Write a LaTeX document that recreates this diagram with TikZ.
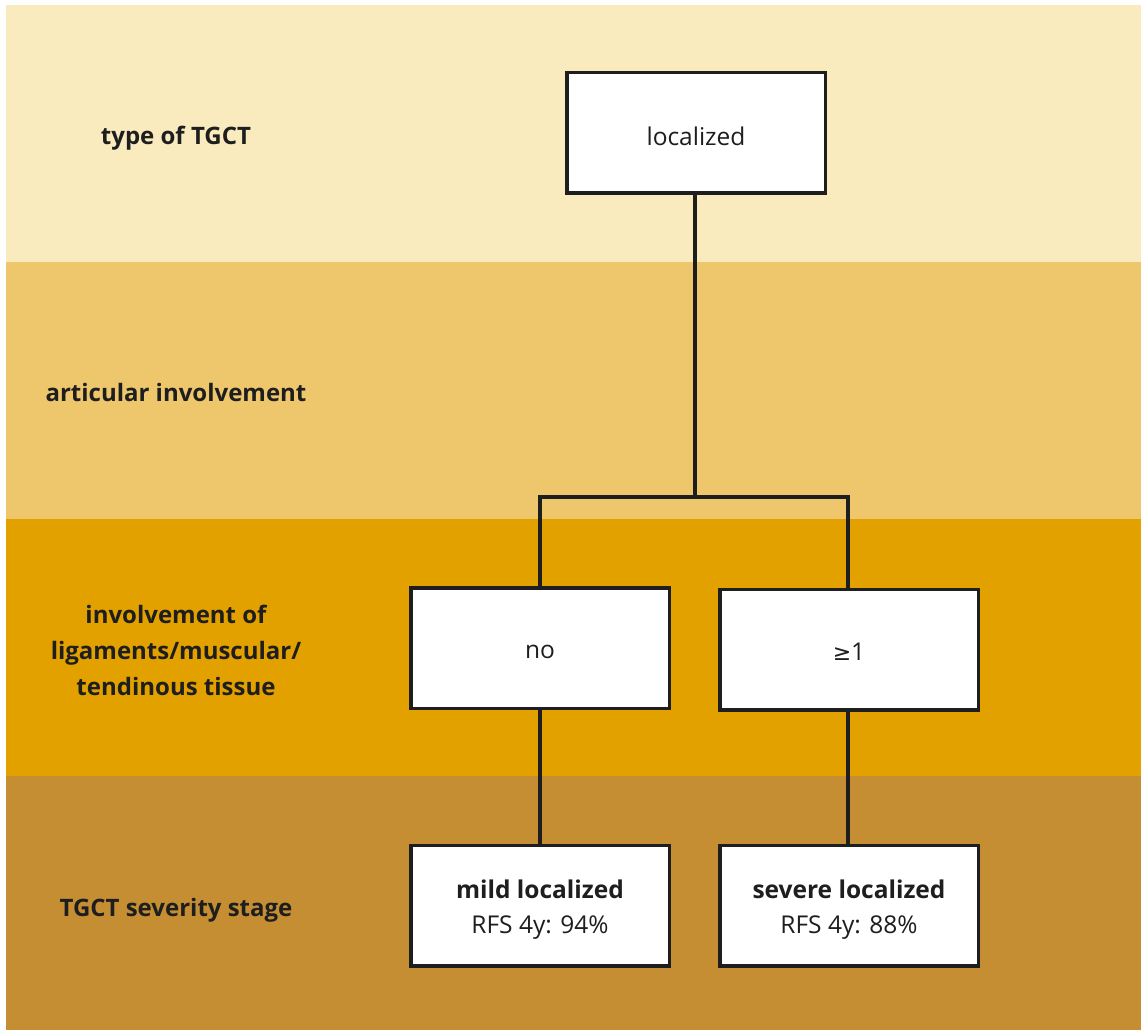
\documentclass[tikz,border=0pt]{standalone}
\usepackage{fontspec}
\setmainfont{Open Sans}
\newfontfamily\symfont{DejaVu Sans}
\definecolor{bandA}{HTML}{FAEBBE}
\definecolor{bandB}{HTML}{EEC76D}
\definecolor{bandC}{HTML}{E3A100}
\definecolor{bandD}{HTML}{C68E32}
\definecolor{ink}{HTML}{1E1E1E}
\newcommand{\lowered}[2]{\raisebox{#1}[\height][\depth]{#2}}
\begin{document}
\begin{tikzpicture}[x=1pt,y=-1pt,
  box/.style={draw=ink,fill=white,line width=3.5pt,minimum width=258.5pt,minimum height=120.5pt,inner sep=0pt,align=center,font=\fontsize{24.5}{35}\selectfont,text=ink},
  rowlabel/.style={align=center,font=\fontsize{24}{36}\selectfont\bfseries,text=ink},
  conn/.style={draw=ink,line width=3.5pt,line join=miter}]
\useasboundingbox (0,0) rectangle (1141,1030);
\fill[bandA] (6,5) rectangle (1141,262);
\fill[bandB] (6,262) rectangle (1141,519);
\fill[bandC] (6,519) rectangle (1141,776);
\fill[bandD] (6,776) rectangle (1141,1030);

\node[rowlabel] (l1) at (176,138) {type of TGCT};
\node[rowlabel] (l2) at (176,392) {articular involvement};
\node[rowlabel] (l3) at (176,650) {involvement of\\ligaments/muscular/\\tendinous tissue};
\node[rowlabel] (l4) at (176,910) {TGCT severity stage};

\node[box] (loc) at (696,133) {\lowered{-3pt}{localized}};
\node[box] (no) at (540,648) {\lowered{-4pt}{no}};
\node[box] (ge) at (849,649.5) {\lowered{-2pt}{{\symfont\fontsize{22}{30}\selectfont ≥}1}};
\node[box] (mild) at (540,905.5) {\lowered{-3pt}{\begin{tabular}{@{}c@{}}\textbf{mild localized}\\[0pt]RFS 4y: 94\%\end{tabular}}};
\node[box] (sev) at (849,905.5) {\lowered{-3pt}{\begin{tabular}{@{}c@{}}\textbf{severe localized}\\[0pt]RFS 4y: 88\%\end{tabular}}};

\coordinate (j) at (695,497);
\draw[conn] (loc.south -| j) -- (j);
\draw[conn] (no.north -| 540,0) -- (540,0 |- j) -- (848,0 |- j) -- (ge.north -| 848,0);
\draw[conn] (no.south -| 540,0) -- (mild.north -| 540,0);
\draw[conn] (ge.south -| 848,0) -- (sev.north -| 848,0);
\end{tikzpicture}
\end{document}
